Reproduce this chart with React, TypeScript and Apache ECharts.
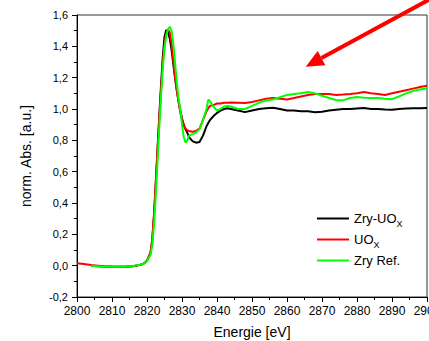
import React, { useEffect, useRef } from "react";
import * as echarts from "echarts";

// Photon energy grid [eV]
const energy = [
  2800, 2802, 2804, 2806, 2808, 2810, 2812, 2814, 2816, 2818, 2819, 2820, 2821, 2821.5, 2822, 2822.5,
  2823, 2823.5, 2824, 2824.5, 2825, 2825.5, 2826, 2826.5, 2827, 2827.5, 2828, 2828.5, 2829, 2829.5,
  2830, 2830.5, 2831, 2831.5, 2832, 2833, 2834, 2835, 2836, 2837, 2837.5, 2838, 2839, 2840, 2841,
  2842, 2843, 2844, 2846, 2848, 2850, 2852, 2854, 2856, 2858, 2860, 2862, 2864, 2866, 2868, 2870,
  2872, 2874, 2876, 2878, 2880, 2882, 2884, 2886, 2888, 2890, 2892, 2894, 2896, 2898, 2900,
];

// Normalised absorption, Zry-UOx
const zryUox = [
  null, null, 0.0, -0.004, -0.006, -0.007, -0.007, -0.006, -0.003, 0.005, 0.012, 0.03, 0.08, 0.16, 0.32, 0.52,
  0.74, 0.95, 1.15, 1.33, 1.46, 1.505, 1.49, 1.45, 1.38, 1.29, 1.2, 1.12, 1.05, 0.99,
  0.94, 0.9, 0.87, 0.85, 0.82, 0.795, 0.785, 0.79, 0.83, 0.89, 0.91, 0.93, 0.955, 0.975, 0.99,
  1.0, 1.005, 1.0, 0.99, 0.98, 0.99, 1.0, 1.005, 1.008, 1.0, 0.99, 0.99, 0.985, 0.985, 0.98, 0.982,
  0.99, 0.995, 1.0, 1.0, 1.003, 1.006, 1.0, 1.0, 0.997, 0.995, 1.0, 1.003, 1.005, 1.005, 1.006,
];

// Normalised absorption, UOx
const uox = [
  0.015, 0.01, 0.004, 0.0, -0.004, -0.006, -0.007, -0.007, -0.004, 0.004, 0.012, 0.032, 0.085, 0.17, 0.33, 0.53,
  0.74, 0.94, 1.12, 1.29, 1.41, 1.48, 1.505, 1.49, 1.42, 1.31, 1.21, 1.12, 1.05, 0.98,
  0.93, 0.895, 0.875, 0.865, 0.86, 0.855, 0.86, 0.875, 0.93, 0.985, 1.005, 1.02, 1.025, 1.035, 1.035,
  1.04, 1.04, 1.042, 1.04, 1.038, 1.045, 1.055, 1.065, 1.07, 1.065, 1.06, 1.07, 1.08, 1.09, 1.095, 1.095,
  1.095, 1.09, 1.092, 1.095, 1.1, 1.108, 1.1, 1.095, 1.09, 1.1, 1.11, 1.12, 1.13, 1.14, 1.148,
];

// Normalised absorption, Zry reference
const zryRef = [
  null, null, 0.0, -0.004, -0.006, -0.007, -0.007, -0.006, -0.002, 0.006, 0.012, 0.028, 0.07, 0.13, 0.26, 0.45,
  0.66, 0.88, 1.08, 1.26, 1.39, 1.47, 1.51, 1.525, 1.5, 1.42, 1.3, 1.17, 1.07, 1.0,
  0.9, 0.82, 0.786, 0.8, 0.83, 0.84, 0.85, 0.87, 0.93, 1.0, 1.06, 1.05, 1.015, 0.99, 1.0,
  1.016, 1.02, 1.016, 1.0, 1.0, 1.02, 1.04, 1.055, 1.06, 1.075, 1.09, 1.095, 1.1, 1.108, 1.1, 1.085,
  1.07, 1.058, 1.055, 1.07, 1.076, 1.072, 1.07, 1.07, 1.065, 1.063, 1.08, 1.1, 1.115, 1.125, 1.133,
];

const seriesDefs = [
  { name: "Zry-UOx", label: "Zry-UO{sub|X}", values: zryUox, color: "#000000" },
  { name: "UOx", label: "UO{sub|X}", values: uox, color: "#ff0000" },
  { name: "Zry Ref.", label: "Zry Ref.", values: zryRef, color: "#00ff00" },
];

const FONT = "'Liberation Sans', Arial, sans-serif";

export default function App() {
  const ref = useRef<HTMLDivElement>(null);

  useEffect(() => {
    if (!ref.current) return;
    const chart = echarts.init(ref.current, null, { renderer: "svg" });

    const labelByName: Record<string, string> = {};
    seriesDefs.forEach((s) => (labelByName[s.name] = s.label));

    // arrow pointing at the post-edge region
    const tip = [305.7, 66.7];
    const tail = [432, -2];
    const dx = tail[0] - tip[0];
    const dy = tail[1] - tip[1];
    const len = Math.hypot(dx, dy);
    const ux = dx / len;
    const uy = dy / len;
    const headLen = 18;
    const headHalf = 8;
    const bx = tip[0] + ux * headLen;
    const by = tip[1] + uy * headLen;

    chart.setOption({
      animation: false,
      grid: {
        left: 77,
        right: 2,
        top: 15,
        bottom: 44,
        outerBoundsMode: "none",
        containLabel: false,
        show: true,
        borderColor: "#333",
        borderWidth: 1,
        backgroundColor: "transparent",
      },
      xAxis: {
        type: "value",
        min: 2800,
        max: 2900,
        interval: 10,
        name: "Energie [eV]",
        nameLocation: "middle",
        nameGap: 28,
        nameTextStyle: { fontFamily: FONT, fontSize: 14, color: "#000" },
        axisLine: { onZero: false, lineStyle: { color: "#000", width: 1 } },
        axisTick: { show: true, length: 5, lineStyle: { color: "#000" } },
        minorTick: { show: true, splitNumber: 2, length: 3, lineStyle: { color: "#000" } },
        splitLine: { show: false },
        axisLabel: {
          fontFamily: FONT,
          fontSize: 12,
          color: "#000",
          margin: 8,
          formatter: (v: number) => String(Math.round(v)),
        },
      },
      yAxis: {
        type: "value",
        min: -0.2,
        max: 1.6,
        interval: 0.2,
        name: "norm. Abs. [a.u.]",
        nameLocation: "middle",
        nameGap: 44,
        nameTextStyle: { fontFamily: FONT, fontSize: 14, color: "#000" },
        axisLine: { show: true, onZero: false, lineStyle: { color: "#000", width: 1 } },
        axisTick: { show: true, length: 5, lineStyle: { color: "#000" } },
        minorTick: { show: true, splitNumber: 2, length: 3, lineStyle: { color: "#000" } },
        splitLine: { show: false },
        axisLabel: {
          fontFamily: FONT,
          fontSize: 11,
          color: "#000",
          margin: 9,
          formatter: (v: number) => (Math.round(v * 10) / 10).toFixed(1).replace(".", ","),
        },
      },
      legend: {
        orient: "vertical",
        left: 312,
        top: 204,
        icon: "rect",
        itemWidth: 32,
        itemHeight: 2,
        itemGap: 2,
        data: seriesDefs.map((s) => s.name),
        formatter: (name: string) => labelByName[name] || name,
        textStyle: {
          fontFamily: FONT,
          fontSize: 13,
          color: "#000",
          lineHeight: 19,
          rich: {
            sub: {
              fontFamily: FONT,
              fontSize: 9,
              color: "#000",
              lineHeight: 9,
              verticalAlign: "middle",
              padding: [10, 0, 0, 0],
            },
          },
        },
      },
      series: seriesDefs.map((s) => ({
        name: s.name,
        type: "line",
        data: energy.map((e, i) => [e, s.values[i]]),
        symbol: "none",
        connectNulls: false,
        lineStyle: { color: s.color, width: 2 },
        itemStyle: { color: s.color },
      })),
      graphic: [
        {
          type: "line",
          z: 100,
          shape: { x1: tail[0], y1: tail[1], x2: bx, y2: by },
          style: { stroke: "#ff0000", lineWidth: 4 },
        },
        {
          type: "polygon",
          z: 100,
          shape: {
            points: [
              [tip[0], tip[1]],
              [bx - uy * headHalf, by + ux * headHalf],
              [bx + uy * headHalf, by - ux * headHalf],
            ],
          },
          style: { fill: "#ff0000" },
        },
      ],
    });

    return () => chart.dispose();
  }, []);

  return (
    <div
      ref={ref}
      style={{ position: "fixed", left: 0, top: 0, width: 429, height: 341, background: "#fff" }}
    />
  );
}
